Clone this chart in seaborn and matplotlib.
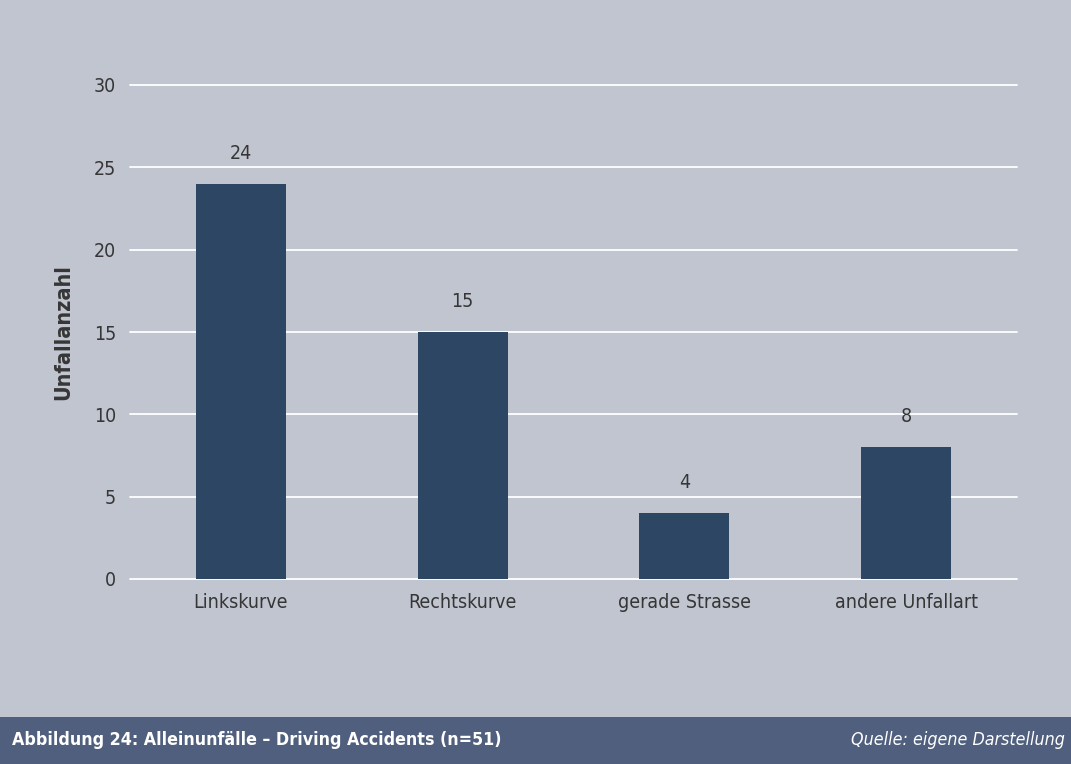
import matplotlib
matplotlib.use("Agg")
import matplotlib.pyplot as plt
import seaborn as sns
import pandas as pd
from matplotlib.patches import Rectangle

categories = ["Linkskurve", "Rechtskurve", "gerade Strasse", "andere Unfallart"]
values = [24, 15, 4, 8]
yticks = [0, 5, 10, 15, 20, 25, 30]
ylabel = "Unfallanzahl"
caption = "Abbildung 24: Alleinunfälle – Driving Accidents (n=51)"
source = "Quelle: eigene Darstellung"

BG = "#c1c5d0"
BAR = "#2c4664"
BANNER = "#4f5f7d"
TXT = "#363636"

sns.set_theme(style="white")
plt.rcParams["font.family"] = ["DejaVu Sans"]
plt.rcParams["font.stretch"] = "condensed"

df = pd.DataFrame({"cat": categories, "val": values})

fig = plt.figure(figsize=(10.71, 7.64), dpi=100, facecolor=BG)
ax = fig.add_axes([130 / 1071, (764 - 579) / 764, (1017 - 130) / 1071, (579 - 85) / 764])
ax.set_facecolor(BG)

sns.barplot(data=df, x="cat", y="val", color=BAR, width=0.405, ax=ax,
            saturation=1, zorder=3, edgecolor="none", linewidth=0)

ax.set_xlim(-0.5, 3.5)
ax.set_ylim(0, 30)
ax.set_yticks(yticks)
for y in yticks:
    ax.axhline(y, color="white", lw=1.3, zorder=1, clip_on=False)
for s in ax.spines.values():
    s.set_visible(False)
ax.tick_params(axis="both", length=0, labelsize=14, colors=TXT)
ax.tick_params(axis="y", pad=10)
ax.tick_params(axis="x", pad=10)
ax.set_xlabel("")
ax.set_ylabel(ylabel, fontsize=15.5, fontweight="bold", color=TXT, labelpad=15)

for c in ax.containers:
    ax.bar_label(c, labels=[str(v) for v in values], padding=15, fontsize=14, color=TXT)

fig.patches.append(Rectangle((0, 0), 1, (764 - 717) / 764, transform=fig.transFigure,
                             facecolor=BANNER, edgecolor="none", zorder=0))
fig.text(12 / 1071, (764 - 740) / 764, caption, color="white", fontsize=12.75,
         fontweight="bold", va="center", ha="left")
fig.text(1065 / 1071, (764 - 740) / 764, source, color="white", fontsize=12.75,
         fontstyle="italic", va="center", ha="right")

fig.savefig("out.png", dpi=100, facecolor=BG)
